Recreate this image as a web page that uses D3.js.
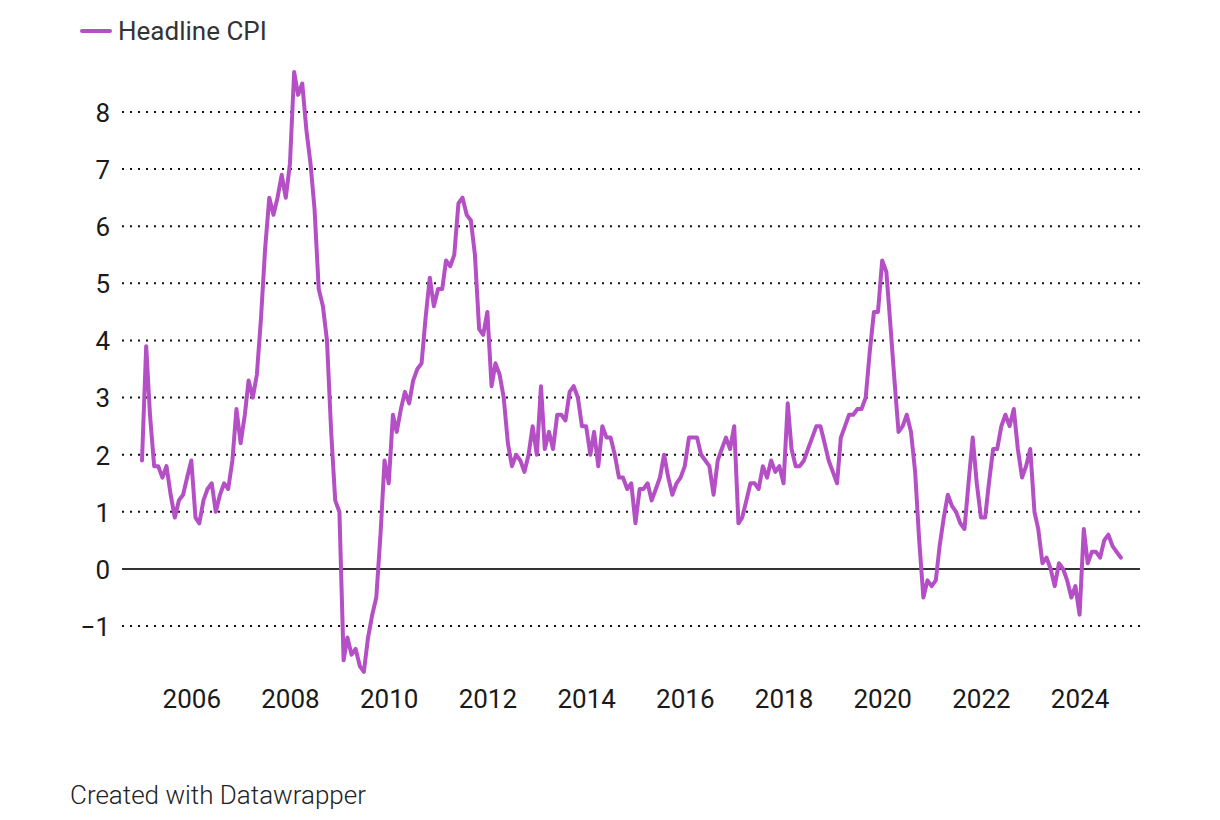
<!DOCTYPE html>
<html>
<head>
<meta charset="utf-8">
<script src="https://cdn.jsdelivr.net/npm/d3@7"></script>
<style>
  html, body { margin: 0; padding: 0; background: #fff; }
  svg { display: block; font-family: Roboto, "Noto Sans", sans-serif; }
</style>
</head>
<body>
<svg id="chart" width="1220" height="820"></svg>
<script>
// ---- data: China headline CPI, % y/y, monthly from Jan 2005 ----
const startYear = 2005;
const seriesName = "Headline CPI";
const cpi2005 = [1.9, 3.9, 2.7, 1.8, 1.8, 1.6, 1.8, 1.3, 0.9, 1.2, 1.3, 1.6];
const cpi2006 = [1.9, 0.9, 0.8, 1.2, 1.4, 1.5, 1.0, 1.3, 1.5, 1.4, 1.9, 2.8];
const cpi2007 = [2.2, 2.7, 3.3, 3.0, 3.4, 4.4, 5.6, 6.5, 6.2, 6.5, 6.9, 6.5];
const cpi2008 = [7.1, 8.7, 8.3, 8.5, 7.7, 7.1, 6.3, 4.9, 4.6, 4.0, 2.4, 1.2];
const cpi2009 = [1.0, -1.6, -1.2, -1.5, -1.4, -1.7, -1.8, -1.2, -0.8, -0.5, 0.6, 1.9];
const cpi2010 = [1.5, 2.7, 2.4, 2.8, 3.1, 2.9, 3.3, 3.5, 3.6, 4.4, 5.1, 4.6];
const cpi2011 = [4.9, 4.9, 5.4, 5.3, 5.5, 6.4, 6.5, 6.2, 6.1, 5.5, 4.2, 4.1];
const cpi2012 = [4.5, 3.2, 3.6, 3.4, 3.0, 2.2, 1.8, 2.0, 1.9, 1.7, 2.0, 2.5];
const cpi2013 = [2.0, 3.2, 2.1, 2.4, 2.1, 2.7, 2.7, 2.6, 3.1, 3.2, 3.0, 2.5];
const cpi2014 = [2.5, 2.0, 2.4, 1.8, 2.5, 2.3, 2.3, 2.0, 1.6, 1.6, 1.4, 1.5];
const cpi2015 = [0.8, 1.4, 1.4, 1.5, 1.2, 1.4, 1.6, 2.0, 1.6, 1.3, 1.5, 1.6];
const cpi2016 = [1.8, 2.3, 2.3, 2.3, 2.0, 1.9, 1.8, 1.3, 1.9, 2.1, 2.3, 2.1];
const cpi2017 = [2.5, 0.8, 0.9, 1.2, 1.5, 1.5, 1.4, 1.8, 1.6, 1.9, 1.7, 1.8];
const cpi2018 = [1.5, 2.9, 2.1, 1.8, 1.8, 1.9, 2.1, 2.3, 2.5, 2.5, 2.2, 1.9];
const cpi2019 = [1.7, 1.5, 2.3, 2.5, 2.7, 2.7, 2.8, 2.8, 3.0, 3.8, 4.5, 4.5];
const cpi2020 = [5.4, 5.2, 4.3, 3.3, 2.4, 2.5, 2.7, 2.4, 1.7, 0.5, -0.5, -0.2];
const cpi2021 = [-0.3, -0.2, 0.4, 0.9, 1.3, 1.1, 1.0, 0.8, 0.7, 1.5, 2.3, 1.5];
const cpi2022 = [0.9, 0.9, 1.5, 2.1, 2.1, 2.5, 2.7, 2.5, 2.8, 2.1, 1.6, 1.8];
const cpi2023 = [2.1, 1.0, 0.7, 0.1, 0.2, 0.0, -0.3, 0.1, 0.0, -0.2, -0.5, -0.3];
const cpi2024 = [-0.8, 0.7, 0.1, 0.3, 0.3, 0.2, 0.5, 0.6, 0.4, 0.3, 0.2];

const yTicks = [-1, 0, 1, 2, 3, 4, 5, 6, 7, 8];
const xTickYears = [2006, 2008, 2010, 2012, 2014, 2016, 2018, 2020, 2022, 2024];
const footerText = "Created with Datawrapper";

// build the monthly table from the yearly arrays
const yearly = [cpi2005, cpi2006, cpi2007, cpi2008, cpi2009, cpi2010, cpi2011, cpi2012,
  cpi2013, cpi2014, cpi2015, cpi2016, cpi2017, cpi2018, cpi2019, cpi2020, cpi2021,
  cpi2022, cpi2023, cpi2024];
const data = [];
yearly.forEach((arr, i) => arr.forEach((v, m) => data.push({ date: new Date(startYear + i, m, 1), value: v })));

// ---- layout ----
const svg = d3.select("#chart");
const gridLeft = 122, gridRight = 1140;
const x = d3.scaleTime()
  .domain([data[0].date, data[data.length - 1].date])
  .range([142, 1120.8]);
const y = d3.scaleLinear().domain([-1, 8]).range([626.1, 112]);

const color = "#b44fc6";
const textColor = "#1a1a1a";

// gridlines
const grid = svg.append("g");
grid.selectAll("line")
  .data(yTicks.filter(d => d !== 0))
  .join("line")
  .attr("x1", gridLeft).attr("x2", gridRight)
  .attr("y1", d => y(d)).attr("y2", d => y(d))
  .attr("stroke", "#111")
  .attr("stroke-width", 2)
  .attr("stroke-dasharray", "2,6");

// y-axis labels
const yAxis = d3.axisLeft(y).tickValues(yTicks).tickSize(0).tickPadding(0)
  .tickFormat(d => d < 0 ? "\u2212" + Math.abs(d) : String(d));
const gy = svg.append("g").attr("transform", `translate(110,0)`).call(yAxis);
gy.select(".domain").remove();
gy.selectAll("text")
  .attr("font-family", "Roboto")
  .attr("font-size", 26)
  .attr("fill", textColor)
  .attr("dy", "0.36em");

// x-axis labels
const xAxis = d3.axisBottom(x)
  .tickValues(xTickYears.map(yr => new Date(yr, 0, 1)))
  .tickSize(0).tickPadding(0)
  .tickFormat(d3.timeFormat("%Y"));
const gx = svg.append("g").attr("transform", `translate(0,690)`).call(xAxis);
gx.select(".domain").remove();
gx.selectAll("text")
  .attr("font-family", "Roboto")
  .attr("font-size", 26)
  .attr("fill", textColor)
  .attr("dy", "0.71em");

// zero baseline
svg.append("line")
  .attr("x1", gridLeft).attr("x2", gridRight)
  .attr("y1", y(0)).attr("y2", y(0))
  .attr("stroke", "#333").attr("stroke-width", 2);

// series line
const line = d3.line().x(d => x(d.date)).y(d => y(d.value));
svg.append("path")
  .datum(data)
  .attr("d", line)
  .attr("fill", "none")
  .attr("stroke", color)
  .attr("stroke-width", 4)
  .attr("stroke-linejoin", "round")
  .attr("stroke-linecap", "round");

// legend
const lg = svg.append("g");
lg.append("line")
  .attr("x1", 82).attr("x2", 110).attr("y1", 31).attr("y2", 31)
  .attr("stroke", color).attr("stroke-width", 4).attr("stroke-linecap", "round");
lg.append("text")
  .attr("x", 118).attr("y", 40)
  .attr("font-family", "Roboto")
  .attr("font-size", 26)
  .attr("fill", "#333")
  .text(seriesName);

// footer
svg.append("text")
  .attr("x", 70).attr("y", 804)
  .attr("font-family", "Roboto")
  .attr("font-weight", 300)
  .attr("font-size", 26)
  .attr("fill", "#222")
  .text(footerText);
</script>
</body>
</html>
